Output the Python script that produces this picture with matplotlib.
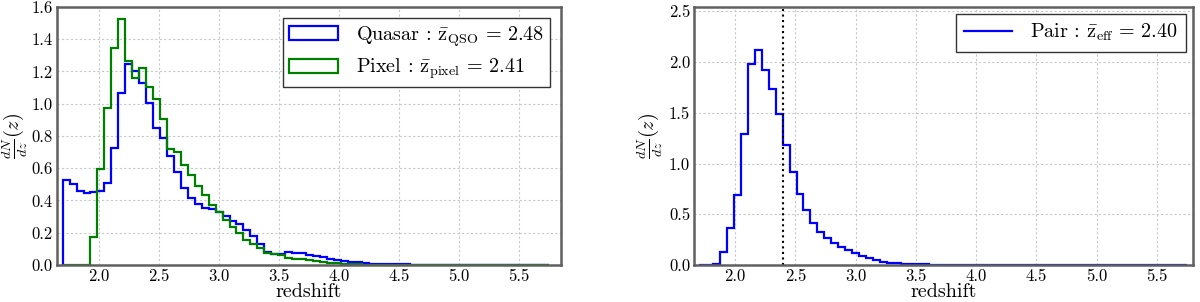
import numpy as np
import matplotlib
matplotlib.use("Agg")
import matplotlib.pyplot as plt
from matplotlib.ticker import FormatStrFormatter, MultipleLocator

# ---------------- data ----------------
z_min, z_max, n_bins = 1.70, 5.75, 70

quasar = [0.527, 0.502, 0.461, 0.449, 0.455, 0.457, 0.511, 0.724, 1.069, 1.248,
          1.203, 1.131, 1.003, 0.852, 0.790, 0.678, 0.579, 0.480, 0.418, 0.376,
          0.356, 0.345, 0.327, 0.306, 0.275, 0.254, 0.217, 0.180, 0.128, 0.083,
          0.068, 0.066, 0.078, 0.077, 0.072, 0.065, 0.056, 0.048, 0.040, 0.033,
          0.027, 0.021, 0.016, 0.012, 0.009, 0.007, 0.006, 0.005, 0.004, 0.004,
          0.003, 0.003, 0.003, 0.002, 0.002, 0.002, 0.002, 0.002, 0.001, 0.001,
          0.001, 0.001, 0.001, 0.001, 0.001, 0.001, 0.001, 0.001, 0.001, 0.001]

pixel = [0.0, 0.0, 0.0, 0.0, 0.172, 0.593, 0.972, 1.344, 1.527, 1.265,
         1.162, 1.220, 1.106, 1.027, 0.905, 0.717, 0.703, 0.620, 0.558, 0.490,
         0.434, 0.372, 0.327, 0.279, 0.234, 0.196, 0.155, 0.128, 0.103, 0.076,
         0.066, 0.064, 0.045, 0.040, 0.036, 0.031, 0.022, 0.017, 0.013, 0.010,
         0.007, 0.005, 0.004, 0.003, 0.003, 0.002, 0.002, 0.002, 0.001, 0.001,
         0.001, 0.001, 0.001, 0.001, 0.001, 0.001, 0.001, 0.001, 0.001, 0.001,
         0.001, 0.001, 0.001, 0.001, 0.001, 0.001, 0.001, 0.001, 0.001, 0.001]

pair = [0.002, 0.004, 0.012, 0.125, 0.365, 0.691, 1.289, 1.980, 2.115, 1.924,
        1.734, 1.487, 1.184, 0.914, 0.702, 0.545, 0.418, 0.325, 0.265, 0.215,
        0.180, 0.148, 0.118, 0.092, 0.068, 0.048, 0.034, 0.024, 0.016, 0.011,
        0.008, 0.006, 0.005, 0.004, 0.003, 0.002, 0.002, 0.002, 0.001, 0.001,
        0.001, 0.001, 0.001, 0.001, 0.001, 0.001, 0.001, 0.001, 0.001, 0.001,
        0.001, 0.001, 0.001, 0.001, 0.001, 0.001, 0.001, 0.001, 0.001, 0.001,
        0.001, 0.001, 0.001, 0.001, 0.001, 0.001, 0.001, 0.001, 0.001, 0.001]

z_eff = 2.40
label_qso = r'Quasar : $\bar{\mathrm{z}}_{\mathrm{QSO}}\,=\,2.48$'
label_pix = r'Pixel : $\bar{\mathrm{z}}_{\mathrm{pixel}}\,=\,2.41$'
label_pair = r'Pair : $\bar{\mathrm{z}}_{\mathrm{eff}}\,=\,2.40$'

# ---------------- style ----------------
plt.rcParams['font.family'] = 'serif'
plt.rcParams['font.serif'] = ['cmr10', 'DejaVu Serif']
plt.rcParams['mathtext.fontset'] = 'cm'
plt.rcParams['axes.formatter.use_mathtext'] = True
plt.rcParams['axes.unicode_minus'] = False

edges = np.linspace(z_min, z_max, n_bins + 1)
centers = 0.5 * (edges[:-1] + edges[1:])

fig = plt.figure(figsize=(12.0, 3.02), dpi=100)
ax1 = fig.add_axes([0.0475, 0.1225, 0.42, 0.8545])
ax2 = fig.add_axes([0.5786, 0.1225, 0.4156, 0.8545])

spine_col = '#606060'
for ax in (ax1, ax2):
    for s in ax.spines.values():
        s.set_color(spine_col)
        s.set_linewidth(1.8)
    ax.grid(True, color='#c8c8c8', linestyle=(0, (2, 2)), linewidth=0.8)
    ax.set_axisbelow(True)
    ax.tick_params(length=0, pad=3, labelsize=12)
    ax.xaxis.set_major_locator(MultipleLocator(0.5))
    ax.xaxis.set_major_formatter(FormatStrFormatter('%.1f'))
    ax.yaxis.set_major_formatter(FormatStrFormatter('%.1f'))
    ax.set_xlabel('redshift', fontsize=14.5, labelpad=-1)
    ax.set_ylabel(r'$\frac{dN}{dz}(z)$', fontsize=14.5)

ax1.yaxis.set_label_coords(-0.054, 0.5)
ax2.yaxis.set_label_coords(-0.058, 0.5)

# left panel
ax1.hist(centers, bins=edges, weights=quasar, histtype='step', color='#0000ff',
         linewidth=1.6, label=label_qso)
ax1.hist(centers, bins=edges, weights=pixel, histtype='step', color='#008000',
         linewidth=1.6, label=label_pix)
ax1.set_xlim(1.653, 5.847)
ax1.set_ylim(0, 1.6)
ax1.yaxis.set_major_locator(MultipleLocator(0.2))
leg1 = ax1.legend(loc='upper right', fontsize=14.5, fancybox=False, framealpha=1,
                  edgecolor='#333333', handlelength=2.4, borderaxespad=0.55,
                  handletextpad=0.9, borderpad=0.3, labelspacing=0.4)
leg1.get_frame().set_linewidth(1.0)

# right panel
ax2.stairs(pair, edges, color='#0000ff', linewidth=1.6, label=label_pair)
ax2.axvline(z_eff, color='black', linestyle=':', linewidth=1.5)
ax2.set_xlim(1.662, 5.80)
ax2.set_ylim(0, 2.543)
ax2.yaxis.set_major_locator(MultipleLocator(0.5))
leg2 = ax2.legend(loc='upper right', fontsize=14.5, fancybox=False, framealpha=1,
                  edgecolor='#333333', handlelength=2.4, borderaxespad=0.35,
                  handletextpad=0.9, borderpad=0.4)
leg2.get_frame().set_linewidth(1.0)

fig.savefig('out.png', dpi=100)
